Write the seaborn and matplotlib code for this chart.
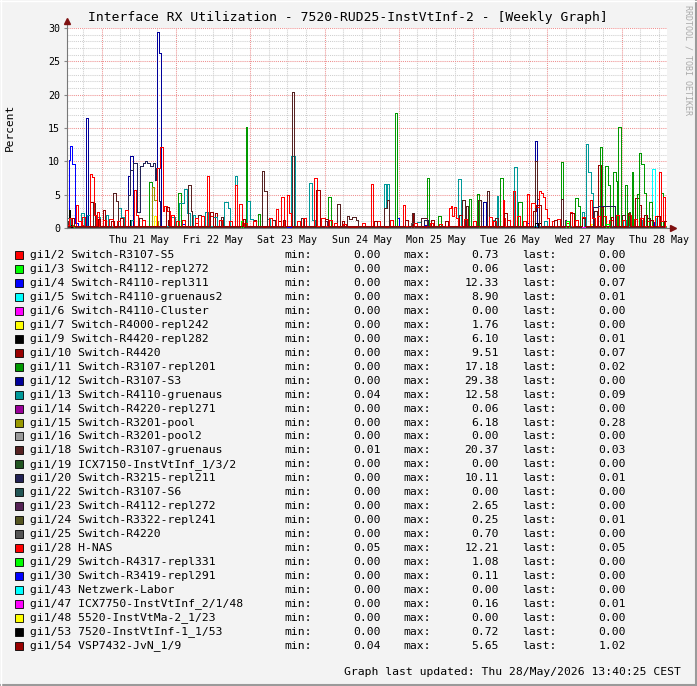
import matplotlib
matplotlib.use("Agg")
import matplotlib.pyplot as plt
import pandas as pd
import seaborn as sns
from matplotlib.patches import Rectangle
from matplotlib.lines import Line2D

# Zeitachse in Stunden ab Do 21. Mai 00:00
t_start = -11.2
t_end = 182.6
day_labels = ["Thu 21 May", "Fri 22 May", "Sat 23 May", "Sun 24 May",
              "Mon 25 May", "Tue 26 May", "Wed 27 May", "Thu 28 May"]

ports = ["gi1/2 Switch-R3107-S5", "gi1/3 Switch-R4112-repl272", "gi1/4 Switch-R4110-repl311",
         "gi1/5 Switch-R4110-gruenaus2", "gi1/6 Switch-R4110-Cluster", "gi1/7 Switch-R4000-repl242",
         "gi1/9 Switch-R4420-repl282", "gi1/10 Switch-R4420", "gi1/11 Switch-R3107-repl201",
         "gi1/12 Switch-R3107-S3", "gi1/13 Switch-R4110-gruenaus", "gi1/14 Switch-R4220-repl271",
         "gi1/15 Switch-R3201-pool", "gi1/16 Switch-R3201-pool2", "gi1/18 Switch-R3107-gruenaus",
         "gi1/19 ICX7150-InstVtInf_1/3/2", "gi1/20 Switch-R3215-repl211", "gi1/22 Switch-R3107-S6",
         "gi1/23 Switch-R4112-repl272", "gi1/24 Switch-R3322-repl241", "gi1/25 Switch-R4220",
         "gi1/28 H-NAS", "gi1/29 Switch-R4317-repl331", "gi1/30 Switch-R3419-repl291",
         "gi1/43 Netzwerk-Labor", "gi1/47 ICX7750-InstVtInf_2/1/48", "gi1/48 5520-InstVtMa-2_1/23",
         "gi1/53 7520-InstVtInf-1_1/53", "gi1/54 VSP7432-JvN_1/9"]
colors = ["#FF0000", "#00FF00", "#0000FF", "#00FFFF", "#FF00FF", "#FFFF00", "#000000",
          "#990000", "#009900", "#000099", "#009999", "#990099", "#999900", "#999999",
          "#552222", "#225522", "#222255", "#225555", "#552255", "#555522", "#555555",
          "#FF0000", "#00FF00", "#0000FF", "#00FFFF", "#FF00FF", "#FFFF00", "#000000", "#990000"]
min_vals = ["0.00", "0.00", "0.00", "0.00", "0.00", "0.00", "0.00", "0.00", "0.00", "0.00",
            "0.04", "0.00", "0.00", "0.00", "0.01", "0.00", "0.00", "0.00", "0.00", "0.00",
            "0.00", "0.05", "0.00", "0.00", "0.00", "0.00", "0.00", "0.00", "0.04"]
max_vals = ["0.73", "0.06", "12.33", "8.90", "0.00", "1.76", "6.10", "9.51", "17.18", "29.38",
            "12.58", "0.06", "6.18", "0.00", "20.37", "0.00", "10.11", "0.00", "2.65", "0.25",
            "0.70", "12.21", "1.08", "0.11", "0.00", "0.16", "0.00", "0.72", "5.65"]
last_vals = ["0.00", "0.00", "0.07", "0.01", "0.00", "0.00", "0.01", "0.07", "0.02", "0.00",
             "0.09", "0.00", "0.28", "0.00", "0.03", "0.00", "0.01", "0.00", "0.00", "0.01",
             "0.00", "0.05", "0.00", "0.00", "0.00", "0.01", "0.00", "0.00", "1.02"]

# Grundlinie je Port (Prozent)
baselines = [0.05, 0.0, 0.1, 0.0, 0.0, 0.0, 0.05, 0.15, 0.02, 0.05, 0.35, 0.0, 0.0, 0.0, 0.15,
             0.0, 0.05, 0.0, 0.0, 0.0, 0.0, 0.3, 0.0, 0.0, 0.0, 0.0, 0.0, 0.0, 0.25]

# Ausschlaege: (von Stunde, bis Stunde, Prozent)
ev_gi2 = [(-6, -5, 0.5), (30, 31, 0.73), (100, 101, 0.4)]
ev_gi3 = [(50, 51, 0.06)]
ev_gi4 = [(-10.6, -10.2, 10.2), (-10.2, -9.5, 12.33), (-9.5, -8.5, 9.6), (-8.5, -7.8, 0.8),
          (26, 27, 0.6), (95.5, 96.1, 1.45), (104, 106, 0.5), (137, 138, 0.8), (170, 171, 1.2),
          (178.5, 179.5, 0.9), (182, 182.6, 0.07)]
ev_gi5 = [(177.9, 178.7, 8.9), (178.7, 179.2, 1.5), (182, 182.6, 0.01)]
ev_gi6 = []
ev_gi7 = [(17, 17.6, 1.76), (158, 159, 0.6)]
ev_gi9 = [(-10.6, -10.1, 2.7), (9, 10, 1.2), (141, 142, 0.8), (176, 177, 1.0), (182, 182.6, 0.01)]
ev_gi10 = [(-3.7, -2.9, 3.9), (0.3, 1.0, 2.7), (6, 7, 1.5), (21.5, 22.3, 1.2), (36.6, 37.3, 2.2),
           (49, 50, 1.2), (57, 58, 1.0), (77.5, 78.2, 1.0), (100.4, 100.9, 2.2), (106.5, 107.2, 1.2),
           (160.4, 161.2, 9.51), (172.3, 173.4, 4.45), (173.4, 174.2, 3.45), (182, 182.6, 0.07)]
ev_gi11 = [(15.4, 16.2, 6.85), (24.8, 25.5, 5.3), (46.6, 47.1, 15.1), (50.6, 51.3, 2.1),
           (73.2, 74.0, 4.6), (94.7, 95.3, 17.18), (105.2, 105.8, 7.45), (108.7, 109.5, 1.8),
           (118.6, 119.3, 4.35), (121.3, 121.9, 5.1), (128.6, 129.5, 7.45), (134.6, 135.7, 3.95),
           (148.3, 148.9, 9.85), (152.9, 154.0, 4.45), (154.0, 154.6, 3.3), (161.0, 161.5, 12.1),
           (162.6, 163.7, 9.35), (163.7, 164.2, 6.4), (165.1, 166.1, 8.35), (166.1, 166.6, 7.0),
           (166.9, 167.6, 15.1), (169.0, 169.6, 6.45), (170.3, 170.8, 2.45), (171.2, 171.7, 8.35),
           (172.9, 173.4, 5.1), (173.7, 174.1, 11.2), (174.1, 175.2, 9.6), (175.2, 175.8, 5.2),
           (176.9, 177.7, 3.95), (180.7, 181.4, 5.3), (182, 182.6, 0.02)]
ev_gi12 = [(-5.1, -4.5, 16.45), (8.6, 9.3, 7.8), (9.3, 10.0, 10.8), (17.96, 18.6, 29.38),
           (18.6, 19.05, 26.2), (123.3, 124.1, 3.85), (140.0, 140.5, 13.05), (182, 182.6, 0.0)]
ev_gi13 = [(-11.2, -10.2, 1.5), (-6.7, -5.7, 2.3), (-4.6, -3.9, 1.9), (-1.6, -0.5, 1.6),
           (1.4, 2.2, 1.9), (5.4, 6.1, 3.0), (6.1, 7.2, 1.6), (9.5, 10.5, 1.2), (22.4, 23.7, 1.6),
           (25.0, 26.6, 3.7), (26.6, 27.4, 5.8), (27.4, 28.4, 2.3), (29.4, 30.1, 2.0),
           (33.4, 34.5, 2.4), (36.1, 37.1, 1.6), (39.5, 40.9, 3.9), (40.9, 41.4, 3.0),
           (43.2, 43.6, 7.8), (46.8, 47.9, 4.1), (47.9, 48.8, 1.4), (53.3, 54.4, 1.3),
           (61.0, 62.6, 10.8), (67.1, 68.0, 6.8), (68.0, 68.8, 1.2), (91.3, 91.8, 6.6),
           (91.8, 92.3, 3.0), (92.3, 92.9, 6.6), (102, 103, 0.9), (115.2, 116.0, 7.4),
           (126.2, 127.0, 1.2), (127.6, 128.1, 4.8), (133.3, 134.0, 9.1), (143, 144, 1.0),
           (155.0, 155.8, 2.45), (156.4, 157.2, 12.58), (157.2, 157.9, 8.4), (157.9, 158.6, 5.3),
           (168.5, 169.2, 1.2), (174.5, 175.2, 1.2), (182, 182.6, 0.09)]
ev_gi14 = [(120, 121, 0.06)]
ev_gi15 = [(16.2, 16.8, 6.1), (16.8, 17.8, 4.2), (17.8, 18.2, 1.0), (180, 182.6, 0.28)]
ev_gi16 = []
ev_gi18 = [(-11, -10.5, 1.0), (-2.8, -2.2, 3.8), (3.8, 4.6, 5.3), (4.6, 5.2, 4.0), (12, 13, 1.5),
           (27.8, 28.7, 6.4), (28.7, 29.2, 2.5), (31, 32, 2.0), (38.5, 39.2, 1.6), (51.8, 52.5, 8.6),
           (52.5, 53.3, 5.5), (55, 56, 1.2), (61.6, 62.2, 20.37), (64.5, 65.3, 1.5),
           (76.1, 77.0, 3.55), (79.2, 80, 1.8), (80, 81, 1.4), (81, 82, 1.7), (82, 82.8, 1.2),
           (91.2, 92, 2.95), (92, 92.9, 4.2), (100.2, 100.8, 2.2), (103.3, 105, 1.45),
           (116.3, 117.3, 4.2), (117.8, 118.4, 3.3), (121.7, 122.4, 4.2), (124.3, 125, 5.6),
           (127, 128, 1.5), (140.0, 140.5, 10.05), (140.5, 141.4, 4.3), (148.3, 148.9, 4.4),
           (159, 160, 2.5), (168, 169, 2.0), (176, 177, 1.5), (182, 182.6, 0.03)]
ev_gi19 = []
ev_gi20 = [(8.6, 9.2, 5.0), (9.2, 10.0, 8.7), (10.0, 11.5, 9.7), (11.5, 12.4, 2.4),
           (12.4, 13.4, 9.35), (13.4, 14.1, 9.7), (14.1, 14.7, 10.11), (14.7, 15.6, 9.7),
           (15.6, 16.5, 9.35), (16.5, 17.1, 9.7), (17.1, 17.6, 7.2), (17.6, 18.4, 9.0),
           (18.4, 19.0, 4.0), (104, 105.5, 1.2), (158.8, 160.2, 3.1), (160.2, 165.8, 3.3),
           (182, 182.6, 0.01)]
ev_gi22 = []
ev_gi23 = [(72.2, 72.8, 1.0), (149.5, 150, 1.2)]
ev_gi24 = [(60, 61, 0.25), (182, 182.6, 0.01)]
ev_gi25 = [(100, 101, 0.7)]
ev_gi28 = [(-11.2, -10.6, 0.5), (-10.5, -9.8, 1.45), (-8.3, -7.5, 3.45), (-7.5, -6.8, 1.0),
           (-6.5, -5.5, 1.7), (-3.8, -3.1, 8.1), (-3.1, -2.5, 7.7), (-2.5, -1.9, 2.0),
           (-1.5, -0.8, 2.45), (0.5, 1.3, 1.2), (2.5, 3.5, 1.4), (5.0, 5.8, 1.0), (7.5, 8.5, 2.7),
           (10.4, 11.0, 5.7), (11.0, 11.6, 2.0), (13, 14, 1.2), (18.0, 19.0, 9.0),
           (19.0, 19.7, 12.21), (19.7, 20.2, 2.5), (20.2, 21.2, 3.3), (21.2, 22, 2.5),
           (22.5, 23.3, 2.0), (24, 25, 1.0), (26, 27, 1.2), (30, 31, 1.5), (32, 33, 1.8),
           (33.9, 34.7, 7.85), (35, 36, 1.8), (38, 39, 1.2), (41, 42, 1.0), (43.1, 43.6, 6.45),
           (44.5, 45.2, 3.55), (46, 47, 0.8), (49, 50, 1.0), (54, 55, 1.5), (56.4, 57.0, 2.9),
           (57.9, 59.0, 4.6), (59.8, 60.4, 4.9), (60.4, 61.0, 2.2), (63, 64, 1.0), (65, 66, 1.5),
           (68.6, 69.4, 7.45), (71, 72, 1.5), (73.5, 74.3, 1.2), (75, 76, 0.8), (78, 79, 0.6),
           (84, 85, 0.8), (87.0, 87.7, 6.6), (89, 90, 1.0), (93, 94, 1.2), (97.4, 97.9, 3.45),
           (101, 102, 0.8), (106, 107, 0.8), (109, 110, 0.6), (112.3, 112.8, 2.95),
           (112.8, 113.3, 3.3), (113.3, 113.8, 1.8), (113.8, 114.4, 3.2), (114.4, 115, 1.5),
           (117, 118, 1.3), (120, 121, 1.0), (125, 126, 1.6), (126.5, 127.5, 1.0),
           (129.5, 129.9, 4.2), (129.9, 130.4, 1.5), (131, 132, 1.2), (132.7, 133.5, 5.55),
           (134, 135, 1.8), (136, 137, 1.0), (137.5, 137.9, 5.1), (138.7, 140.0, 3.8),
           (140.0, 141.4, 3.2), (141.4, 141.8, 5.55), (141.8, 142.7, 5.3), (142.7, 143.3, 4.7),
           (143.3, 144.0, 2.8), (144.0, 144.6, 1.5), (145.5, 146.2, 1.0), (147, 148, 1.3),
           (150, 151, 0.8), (151.3, 152, 2.45), (153, 154, 1.2), (155, 156, 1.6),
           (157.7, 158.5, 4.2), (158.5, 159.5, 1.5), (160, 161, 1.8), (162, 163, 1.8),
           (164, 165, 1.2), (166, 167, 1.95), (168, 169, 1.2), (170, 171, 1.95), (172, 173, 1.3),
           (174, 175, 1.5), (176, 177, 1.1), (178.8, 179.5, 1.8), (180.0, 180.7, 8.4),
           (180.7, 181.4, 1.0), (181.4, 182.1, 4.7), (182.1, 182.6, 0.05)]
ev_gi29 = [(-10, -9, 0.5), (45.0, 45.6, 1.08), (150, 151, 1.0), (163, 164, 0.6)]
ev_gi30 = [(60, 61, 0.11)]
ev_gi43 = []
ev_gi47 = [(155, 156, 0.16), (182, 182.6, 0.01)]
ev_gi48 = []
ev_gi53 = [(-10, -9.5, 0.5), (140, 141, 0.72)]
ev_gi54 = [(-9.5, -8.8, 1.5), (-1.2, -0.4, 1.4), (3, 4, 1.1), (20.8, 21.6, 3.2), (35.0, 35.8, 2.45),
           (45.5, 46.3, 1.3), (58.5, 59.2, 1.2), (69.2, 70.5, 5.65), (72, 73, 1.3), (88, 89, 1.0),
           (98, 99, 1.2), (111, 112, 1.0), (115.5, 116.3, 2.0), (130, 131, 2.2), (139.4, 140.3, 2.6),
           (140.3, 141.8, 3.45), (146, 147, 1.2), (151.3, 152.4, 2.3), (155, 156, 1.5),
           (161.2, 162.0, 3.2), (164.5, 165.3, 1.7), (170, 170.6, 2.2), (175.3, 176, 2.0),
           (177, 178, 1.2), (179.5, 180.2, 1.8), (181.5, 182.6, 1.02)]

events = [ev_gi2, ev_gi3, ev_gi4, ev_gi5, ev_gi6, ev_gi7, ev_gi9, ev_gi10, ev_gi11, ev_gi12,
          ev_gi13, ev_gi14, ev_gi15, ev_gi16, ev_gi18, ev_gi19, ev_gi20, ev_gi22, ev_gi23,
          ev_gi24, ev_gi25, ev_gi28, ev_gi29, ev_gi30, ev_gi43, ev_gi47, ev_gi48, ev_gi53, ev_gi54]


def stufen(ev, base):
    xs, ys = [t_start], [base]
    for a, b, v in sorted(ev):
        a = max(a, xs[-1])
        b = min(b, t_end)
        if a > xs[-1]:
            xs.append(a)
            ys.append(v)
        else:
            ys[-1] = v
        xs.append(b)
        ys.append(base)
    if xs[-1] < t_end:
        xs.append(t_end)
        ys.append(ys[-1])
    else:
        ys[-1] = ys[-2]
    return xs, ys


rows = []
for name, ev, base in zip(ports, events, baselines):
    xs, ys = stufen(ev, base)
    for x, y in zip(xs, ys):
        rows.append({"Stunde": x, "Prozent": y, "Port": name})
df = pd.DataFrame(rows)

mono = "DejaVu Sans Mono"
plt.rcParams["font.family"] = mono

W, H = 697, 686
fig = plt.figure(figsize=(W / 100, H / 100), dpi=100, facecolor="#F3F3F3")
ax = fig.add_axes([67 / W, 1 - 228 / H, 600 / W, 200 / H])
ax.set_facecolor("white")

# Gitter
dots = (0, (1, 1))
for h in range(-6, 183, 6):
    if h % 24 != 0:
        ax.axvline(h, color="#CFCFCF", lw=0.75, ls=dots, zorder=0.5)
for h in range(0, 183, 24):
    ax.axvline(h, color="#EE9090", lw=0.75, ls=dots, zorder=0.6)
for v in range(1, 31):
    if v % 5 != 0:
        ax.axhline(v, color="#CFCFCF", lw=0.75, ls=dots, zorder=0.5)
for v in range(5, 31, 5):
    ax.axhline(v, color="#EE9090", lw=0.75, ls=dots, zorder=0.6)

sns.lineplot(data=df, x="Stunde", y="Prozent", hue="Port", hue_order=ports,
             palette=dict(zip(ports, colors)), estimator=None, sort=False,
             drawstyle="steps-post", linewidth=0.72, antialiased=False, legend=False, ax=ax)

ax.set_xlim(t_start, t_end)
ax.set_ylim(0, 30)
ax.set_xticks([12 + 24 * k for k in range(len(day_labels))], labels=day_labels)
ax.set_yticks(range(0, 31, 5))
ax.tick_params(axis="x", length=0, pad=5, labelsize=7.2)
ax.tick_params(axis="y", length=2, pad=3, labelsize=7.2, color="#888888")
ax.set_xlabel("")
ax.set_ylabel("")
for s in ["top", "right"]:
    ax.spines[s].set_visible(False)
for s in ["left", "bottom"]:
    ax.spines[s].set_color("#777777")
    ax.spines[s].set_linewidth(0.8)

# Achsenpfeile
ax.add_line(Line2D([0, 0], [1, 1.03], transform=ax.transAxes, color="#777777", lw=0.8, clip_on=False))
ax.add_line(Line2D([1, 1.008], [0, 0], transform=ax.transAxes, color="#777777", lw=0.8, clip_on=False))
ax.plot([0], [1.035], marker="^", ms=4, color="#7F1010", transform=ax.transAxes, clip_on=False)
ax.plot([1.01], [0], marker=">", ms=4, color="#7F1010", transform=ax.transAxes, clip_on=False)

fig.text(348 / W, 1 - 18 / H, "Interface RX Utilization - 7520-RUD25-InstVtInf-2 - [Weekly Graph]",
         ha="center", va="center", fontsize=9.4)
fig.text(10 / W, 1 - 127 / H, "Percent", rotation=90, ha="center", va="center", fontsize=8)
fig.text(688 / W, 1 - 5 / H, "RRDTOOL / TOBI OETIKER", rotation=270, ha="center", va="top",
         fontsize=6, color="#AAAAAA")

# Legende
fs = 8.2
for i, name in enumerate(ports):
    yc = 255 + 13.96 * i
    fig.patches.append(Rectangle((15 / W, 1 - (yc + 4) / H), 8 / W, 8 / H, transform=fig.transFigure,
                                 facecolor=colors[i], edgecolor="black", lw=0.6))
    fig.text(30 / W, 1 - yc / H, name, ha="left", va="center", fontsize=fs)
    fig.text(284 / W, 1 - yc / H, "min:", ha="left", va="center", fontsize=fs)
    fig.text(381 / W, 1 - yc / H, min_vals[i], ha="right", va="center", fontsize=fs)
    fig.text(403 / W, 1 - yc / H, "max:", ha="left", va="center", fontsize=fs)
    fig.text(499 / W, 1 - yc / H, max_vals[i], ha="right", va="center", fontsize=fs)
    fig.text(522 / W, 1 - yc / H, "last:", ha="left", va="center", fontsize=fs)
    fig.text(626 / W, 1 - yc / H, last_vals[i], ha="right", va="center", fontsize=fs)

fig.text(681 / W, 1 - 672 / H, "Graph last updated: Thu 28/May/2026 13:40:25 CEST",
         ha="right", va="center", fontsize=fs)

# Rahmen
fig.add_artist(Line2D([0, 1], [1 / H, 1 / H], transform=fig.transFigure, color="#9A9A9A", lw=1.5))
fig.add_artist(Line2D([1 - 1 / W, 1 - 1 / W], [0, 1], transform=fig.transFigure, color="#9A9A9A", lw=1.5))
fig.add_artist(Line2D([0, 1], [1 - 0.5 / H, 1 - 0.5 / H], transform=fig.transFigure, color="white", lw=1))
fig.add_artist(Line2D([0.5 / W, 0.5 / W], [0, 1], transform=fig.transFigure, color="white", lw=1))

fig.savefig("out.png", dpi=100, facecolor=fig.get_facecolor())
